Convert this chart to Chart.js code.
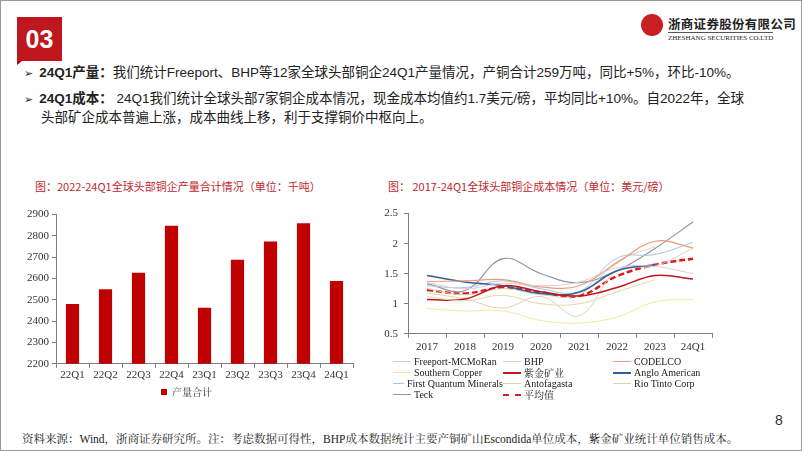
<!DOCTYPE html>
<html>
<head>
<meta charset="utf-8">
<script src="https://cdn.jsdelivr.net/npm/chart.js@4.4.1/dist/chart.umd.min.js"></script>
<style>
    html, body {margin: 0; padding: 0; background: #fff;}
    body {width: 802px; height: 451px; position: relative; overflow: hidden;
          font-family: "Liberation Sans", "Noto Sans CJK SC", sans-serif; color: #222;}
    .frame {position: absolute; left: 0; top: 0; width: 800px; height: 449px; border: 1px solid #9a9a9a;}
    .badge {position: absolute; left: 17px; top: 17px; width: 45px; height: 44px; background: #c0161d;
            color: #fff; font: bold 25px "Liberation Sans", sans-serif; line-height: 44px; text-align: center;}
    .badge:after {content: ''; position: absolute; left: 0; bottom: -4px; width: 0; height: 0;
                  border-top: 4px solid #8a0d12; border-right: 5px solid transparent;}
    .logo {position: absolute; left: 641px; top: 14px;}
    .logo .mark {position: absolute; left: 0; top: 0; width: 22px; height: 22px; border-radius: 50%; background: #c81e24;}
    .logo .cn {position: absolute; left: 27px; top: 0; font: bold 12.5px "Noto Sans CJK SC", sans-serif; white-space: nowrap; letter-spacing: 0.3px;}
    .logo .en {position: absolute; left: 27px; top: 18px; font: 7px "Liberation Serif", serif; white-space: nowrap; border-top: 1px solid #555; padding-top: 1px;}
    .bullet {position: absolute; left: 24px; font-size: 13.5px; line-height: 18px; white-space: nowrap;}
    .bullet .arr {font-family: "DejaVu Sans", sans-serif; font-size: 11px; margin-right: 6px;}
    .bullet b {font-weight: bold;}
    .ctitle {position: absolute; top: 178px; font: 11px "Noto Sans CJK SC", sans-serif; color: #c0272d; white-space: nowrap;}
    .chart {position: absolute;}
    #costLegend {position: absolute; left: 393px; top: 356px; display: grid;
                 grid-template-columns: 110px 110px 110px; grid-auto-rows: 11px;
                 font: 10px "Liberation Serif", "Noto Serif CJK SC", serif; color: #222;}
    #costLegend .item {display: flex; align-items: center; white-space: nowrap;}
    #costLegend .sample {width: 18px; height: 0; margin-right: 3px;}
    .pageno {position: absolute; left: 775px; top: 412px; font-size: 14px; color: #333;}
    .note {position: absolute; left: 22px; top: 430px; font: 11.5px "Liberation Serif", "Noto Serif CJK SC", serif; white-space: nowrap;}
</style>
</head>
<body>
<div class="frame"></div>
<div class="badge">03</div>
<div class="logo">
    <div class="mark"></div>
    <div class="cn">浙商证券股份有限公司</div>
    <div class="en">ZHESHANG SECURITIES CO.LTD</div>
</div>
<div class="bullet" style="top: 64px;"><span class="arr">➢</span><b>24Q1产量：</b>我们统计Freeport、BHP等12家全球头部铜企24Q1产量情况，产铜合计259万吨，同比+5%，环比-10%。</div>
<div class="bullet" style="top: 90px;"><span class="arr">➢</span><b>24Q1成本：</b> 24Q1我们统计全球头部7家铜企成本情况，现金成本均值约1.7美元/磅，平均同比+10%。自2022年，全球<br><span style="padding-left: 17px;">头部矿企成本普遍上涨，成本曲线上移，利于支撑铜价中枢向上。</span></div>

<div class="ctitle" style="left: 35px;">图：2022-24Q1全球头部铜企产量合计情况（单位：千吨）</div>
<div class="ctitle" style="left: 388px;">图： 2017-24Q1全球头部铜企成本情况（单位：美元/磅）</div>

<div class="chart" style="left: 20px; top: 205px; width: 340px; height: 202px;"><canvas id="outputChart"></canvas></div>
<div class="chart" style="left: 370px; top: 201px; width: 350px; height: 156px;"><canvas id="costChart"></canvas></div>
<div id="costLegend"></div>

<div class="pageno">8</div>
<div class="note">资料来源：Wind，浙商证券研究所。注：考虑数据可得性，BHP成本数据统计主要产铜矿山Escondida单位成本，紫金矿业统计单位销售成本。</div>

<script>
// production totals, kt
var quarters = ['22Q1', '22Q2', '22Q3', '22Q4', '23Q1', '23Q2', '23Q3', '23Q4', '24Q1'];
var outputTotal = [2480, 2550, 2627, 2848, 2463, 2688, 2774, 2860, 2588];

// cash cost, USD/lb
var years = ['2017', '2018', '2019', '2020', '2021', '2022', '2023', '24Q1'];
var companies = ['Freeport-MCMoRan', 'BHP', 'CODELCO', 'Southern Copper', '紫金矿业', 'Anglo American',
                 'First Quantum Minerals', 'Antofagasta', 'Rio Tinto Corp', 'Teck'];
var freeport    = [1.35, 1.25, 1.34, 1.30, 1.36, 1.60, 1.62, 1.50];
var bhp         = [1.12, 1.05, 1.14, 1.00, 1.00, 1.20, 1.40, null];
var codelco     = [1.37, 1.38, 1.40, 1.28, 1.30, 1.68, 2.04, 1.93];
var southern    = [0.92, 0.88, 0.88, 0.72, 0.68, 0.78, 1.03, 1.07];
var zijin       = [1.07, 1.08, 1.30, 1.20, 1.13, 1.27, 1.47, 1.41];
var anglo       = [1.47, 1.36, 1.30, 1.17, 1.19, 1.55, 1.65, null];
var firstQuant  = [1.30, 1.27, 1.38, 1.25, 1.20, 1.76, 1.82, 2.02];
var antofagasta = [1.18, 1.08, 0.93, 1.12, 0.80, 1.55, 1.63, 1.92];
var rioTinto    = [1.25, 1.15, 1.25, 1.15, 1.15, 1.70, 1.95, null];
var teck        = [1.33, 1.22, 1.75, 1.50, 1.35, 1.55, 1.92, 2.36];
var average     = [1.23, 1.17, 1.27, 1.19, 1.13, 1.46, 1.65, 1.75];
var averageName = '平均值';

var yTicksOutput = [2200, 2300, 2400, 2500, 2600, 2700, 2800, 2900];
var yTicksCost = [0.5, 1, 1.5, 2, 2.5];

var costSeries = [freeport, bhp, codelco, southern, zijin, anglo, firstQuant, antofagasta, rioTinto, teck];
var costColors = ['#e3c9cf', '#e6d5a8', '#eb9b7c', '#f6e59a', '#c2161f', '#2f5e9e',
                  '#a9c3e2', '#ddd3b4', '#d6d9a4', '#9494a4'];
var costWidths = [1, 1, 1.2, 1, 1.5, 1.5, 1, 1, 1, 1.2];

var tickFont = {family: '"Liberation Serif", serif', size: 11};
var axisColor = '#7f7f7f';

function plainLabel(v) {return String(v);}

new Chart(document.getElementById('outputChart'), {
    type: 'bar',
    data: {
        labels: quarters,
        datasets: [{
            label: '产量合计',
            data: outputTotal,
            backgroundColor: '#c00000',
            barPercentage: 0.4,
            categoryPercentage: 1
        }]
    },
    options: {
        responsive: true,
        maintainAspectRatio: false,
        animation: false,
        layout: {padding: {top: 4, right: 7, left: 0, bottom: 0}},
        plugins: {
            tooltip: {enabled: false},
            legend: {
                position: 'bottom',
                labels: {boxWidth: 6, boxHeight: 6, padding: 4, color: '#333',
                         font: {family: '"Noto Serif CJK SC", "Noto Sans CJK SC", serif', size: 10}}
            }
        },
        scales: {
            x: {
                grid: {drawOnChartArea: false, color: axisColor, tickLength: 4},
                border: {color: axisColor},
                ticks: {color: '#333', font: tickFont, padding: 1}
            },
            y: {
                min: 2200, max: 2900,
                afterBuildTicks: function(axis) {
                    axis.ticks = yTicksOutput.map(function(v) {return {value: v};});
                },
                afterFit: function(axis) {axis.width = 36;},
                grid: {drawOnChartArea: false, color: axisColor, tickLength: 4},
                border: {color: axisColor},
                ticks: {color: '#333', font: tickFont, padding: 3, callback: plainLabel}
            }
        }
    }
});

var datasets = costSeries.map(function(d, i) {
    return {
        label: companies[i], data: d, borderColor: costColors[i], borderWidth: costWidths[i],
        pointRadius: 0, tension: 0.4, fill: false, spanGaps: false
    };
});
datasets.push({
    label: averageName, data: average, borderColor: '#e0151d', borderWidth: 2.5,
    borderDash: [6, 3], pointRadius: 0, tension: 0.4, fill: false
});

new Chart(document.getElementById('costChart'), {
    type: 'line',
    data: {labels: years, datasets: datasets},
    options: {
        responsive: true,
        maintainAspectRatio: false,
        animation: false,
        layout: {padding: {top: 4, right: 8, left: 0, bottom: 0}},
        plugins: {legend: {display: false}, tooltip: {enabled: false}},
        scales: {
            x: {
                offset: true,
                grid: {offset: true, drawOnChartArea: false, color: axisColor, tickLength: 4},
                border: {color: axisColor},
                ticks: {color: '#333', font: tickFont, padding: 3}
            },
            y: {
                min: 0.5, max: 2.5,
                afterBuildTicks: function(axis) {
                    axis.ticks = yTicksCost.map(function(v) {return {value: v};});
                },
                afterFit: function(axis) {axis.width = 38;},
                grid: {drawOnChartArea: false, color: axisColor, tickLength: 4},
                border: {color: axisColor},
                ticks: {color: '#333', font: tickFont, padding: 6, callback: plainLabel}
            }
        }
    }
});

// legend laid out row by row in three columns, like the source
var legendEl = document.getElementById('costLegend');
var legendItems = companies.map(function(name, i) {
    return {name: name, color: costColors[i], width: costWidths[i] + 0.5, dash: false};
});
legendItems.push({name: averageName, color: '#e0151d', width: 2.5, dash: true});
legendItems.forEach(function(it) {
    var div = document.createElement('div');
    div.className = 'item';
    div.innerHTML = '<span class="sample" style="border-top: ' + it.width + 'px ' +
        (it.dash ? 'dashed' : 'solid') + ' ' + it.color + ';"></span>' + it.name;
    legendEl.appendChild(div);
});
</script>
</body>
</html>
